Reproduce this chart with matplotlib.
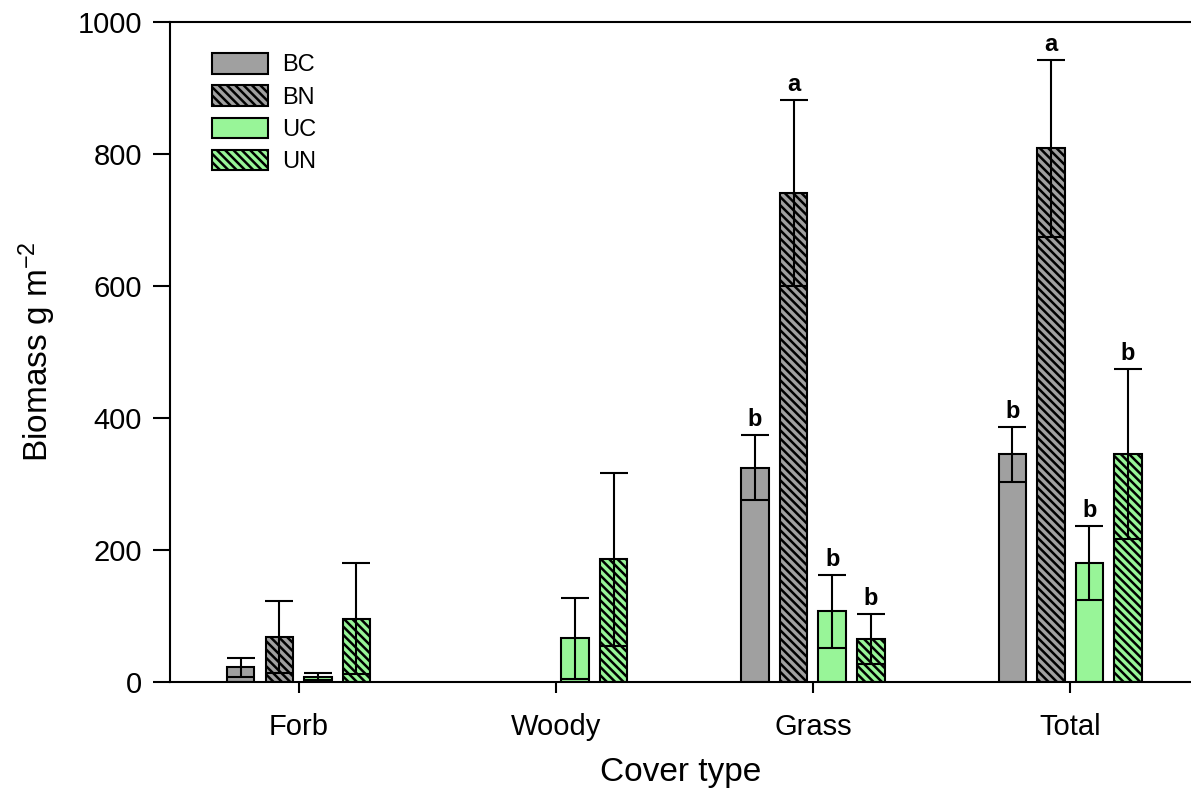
import numpy as np
import matplotlib
matplotlib.use("Agg")
import matplotlib.pyplot as plt

plt.rcParams["font.family"] = ["Liberation Sans", "DejaVu Sans"]
plt.rcParams["mathtext.default"] = "regular"
plt.rcParams["hatch.linewidth"] = 1.8

cover = ["Forb", "Woody", "Grass", "Total"]
treatments = ["BC", "BN", "UC", "UN"]
mean = {"BC": [22, 0, 325, 345],
        "BN": [68, 0, 741, 809],
        "UC": [8, 66, 107, 180],
        "UN": [96, 186, 65, 345]}
se = {"BC": [15, 0, 49, 42],
      "BN": [54, 0, 141, 134],
      "UC": [5, 62, 55, 56],
      "UN": [84, 131, 38, 129]}
letters = {"BC": ["", "", "b", "b"],
           "BN": ["", "", "a", "a"],
           "UC": ["", "", "b", "b"],
           "UN": ["", "", "b", "b"]}

face = {"BC": "#a0a0a0", "BN": "#a0a0a0", "UC": "#98f598", "UN": "#98f598"}
hatch = {"BC": None, "BN": "\\\\\\\\", "UC": None, "UN": "\\\\\\\\"}
offsets = [-0.225, -0.075, 0.075, 0.225]
width = 0.107

fig = plt.figure(figsize=(11.91, 8.06), dpi=100)
ax = fig.add_axes([170 / 1191, 1 - 682 / 806, 1 - 170 / 1191, 660 / 806])

x = np.arange(1, len(cover) + 1)
for tr, off in zip(treatments, offsets):
    m = np.array(mean[tr], dtype=float)
    e = np.array(se[tr], dtype=float)
    show = m > 0
    ax.bar(x[show] + off, m[show], width, color=face[tr], edgecolor="black",
           linewidth=1.5, hatch=hatch[tr], label=tr, zorder=2)
    ax.errorbar(x[show] + off, m[show], yerr=e[show], fmt="none", ecolor="black",
                elinewidth=1.5, capsize=10, capthick=1.5, zorder=3)
    for xi, mi, ei, lab in zip(x + off, m, e, letters[tr]):
        if lab:
            ax.text(xi, mi + ei + 6, lab, ha="center", va="bottom",
                    fontsize=17, fontweight="bold")

ax.set_xlim(0.5, 4.47)
ax.set_ylim(0, 1000)
ax.set_yticks(range(0, 1001, 200))
ax.set_xticks(x)
ax.set_xticklabels(cover)
ax.tick_params(axis="both", direction="out", length=12, width=1.5, labelsize=21)
ax.tick_params(axis="x", length=8, pad=14)
ax.tick_params(axis="y", pad=8)
for s in ["left", "bottom", "top"]:
    ax.spines[s].set_linewidth(1.5)
ax.spines["right"].set_visible(False)

ax.set_xlabel("Cover type", fontsize=24, labelpad=12)
ax.set_ylabel("Biomass g m$^{-2}$", fontsize=24, labelpad=14)

ax.legend(loc="upper left", bbox_to_anchor=(0.02, 0.985), frameon=False,
          fontsize=17, handlelength=2.4, handleheight=0.95, labelspacing=0.38,
          handletextpad=0.6)

fig.savefig("out.png", dpi=100)
